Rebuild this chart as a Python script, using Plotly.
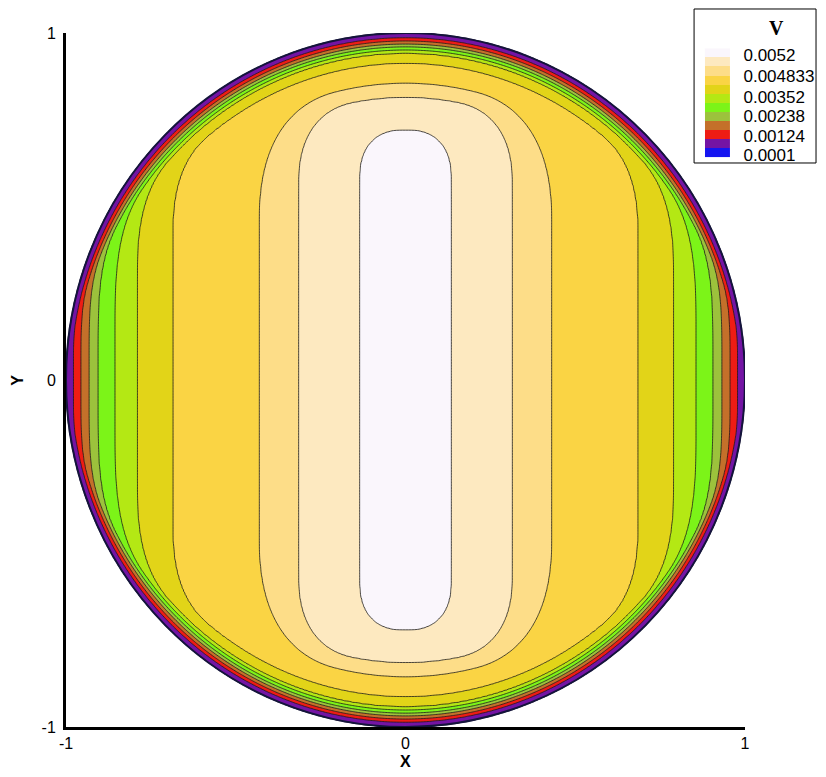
import numpy as np
import plotly.graph_objects as go

# legend levels (V) shown in the key, top to bottom
legend_labels = ["0.0052", "0.004833", "0.00352", "0.00238", "0.00124", "0.0001"]
legend_colors = ["#FAF6FC", "#FDE9C0", "#FDDD88", "#FAD444", "#E2D418", "#B4E814",
                 "#7CF418", "#9CC23C", "#C4702A", "#EE1C14", "#7414A4", "#1414F0"]

# band colours in the disk, from outside (blank) to the centre
band_colors = ["#FFFFFF", "#7414A4", "#EE1C14", "#C4702A", "#9CC23C",
               "#7CF418", "#B4E814", "#E2D418", "#FAD444", "#FDDD88", "#FDE9C0", "#FAF6FC"]

# contour boundaries, outer -> inner
# half width at y=0, half height at x=0, corner rounding
bound_halfwidth = [1.000, 0.978, 0.956, 0.932, 0.906, 0.856, 0.790, 0.685, 0.430, 0.315, 0.134]
bound_halfheight = [1.000, 0.986, 0.977, 0.968, 0.960, 0.951, 0.942, 0.913, 0.855, 0.815, 0.720]
bound_round = [0.0, 0.006, 0.019, 0.033, 0.05, 0.08, 0.09, 0.10, 0.22, 0.16, 0.12]

xs = np.linspace(-1, 1, 451)
ys = np.linspace(-1, 1, 451)
X, Y = np.meshgrid(xs, ys)
R = np.sqrt(X**2 + Y**2)


def smax(p, q, k):
    if k <= 0:
        return np.maximum(p, q)
    h = np.clip(k - np.abs(p - q), 0, None) / k
    return np.maximum(p, q) + h * h * k / 4


D = np.array([smax(np.abs(X) - a, R - b, k)
              for a, b, k in zip(bound_halfwidth, bound_halfheight, bound_round)])
nb = len(D)
inside = (D < 0).sum(axis=0)
V = np.empty_like(X)
out = inside == 0
V[out] = 1 - np.clip(D[0][out] / 0.05, 0, 0.99)
for k in range(nb):
    m = inside == k + 1
    if k < nb - 1:
        dk = -D[k][m]
        dn = D[k + 1][m]
        V[m] = (k + 1) + dk / (dk + dn)
    else:
        V[m] = (k + 1) + np.clip(-D[k][m] / 0.05, 0, 0.99)
V = np.round(V, 4)

# stepped colourscale so every band gets exactly its colour
n = len(band_colors) - 1
cscale = []
for i, c in enumerate(band_colors):
    cscale.append([max(0.0, (i - 0.5) / n), c])
    cscale.append([min(1.0, (i + 0.5) / n), c])

fig = go.Figure()
fig.add_trace(go.Contour(
    x=xs, y=ys, z=V, colorscale=cscale, showscale=False,
    contours=dict(start=1, end=nb, size=1, coloring="fill"),
    line=dict(color="#1a1a1a", width=0.8), hoverinfo="skip"))

# legend key as a small heatmap
nk = len(legend_colors)
fig.add_trace(go.Heatmap(
    z=[[i] for i in range(nk)], xaxis="x2", yaxis="y2",
    colorscale=[[i / (nk - 1), c] for i, c in enumerate(legend_colors)],
    showscale=False, hoverinfo="skip"))

# page body adds an 8px margin, keep the figure inside the window
fig.update_layout(
    width=810, height=761,
    margin=dict(l=58, r=73, t=25, b=42),
    paper_bgcolor="white", plot_bgcolor="white",
    font=dict(family="Arial, Liberation Sans", color="black"),
    showlegend=False,
    xaxis=dict(range=[-1, 1], tickvals=[-1, 0, 1], ticktext=["-1", "0", "1"], automargin=False,
               showgrid=False, zeroline=False, showline=True, linewidth=3, linecolor="black",
               ticks="", tickfont=dict(size=16)),
    yaxis=dict(range=[-1, 1], tickvals=[-1, 0, 1], ticktext=["-1", "0", "1"], automargin=False,
               showgrid=False, zeroline=False, showline=True, linewidth=3, linecolor="black",
               ticks="outside", ticklen=4, tickcolor="rgba(0,0,0,0)", tickfont=dict(size=16)),
    xaxis2=dict(domain=[0.941, 0.978], anchor="y2", range=[-0.5, 0.5], automargin=False,
                showticklabels=False, showgrid=False, zeroline=False, showline=False),
    yaxis2=dict(domain=[0.821, 0.978], anchor="x2", range=[11.5, -0.5], side="right",
                automargin=False,
                tickvals=[0.3, 2.55, 4.9, 7.0, 9.2, 11.3], ticktext=legend_labels,
                ticks="outside", ticklen=9, tickcolor="rgba(0,0,0,0)",
                tickfont=dict(size=17), showgrid=False, zeroline=False, showline=False),
    shapes=[dict(type="circle", xref="x", yref="y", x0=-1, x1=1, y0=-1, y1=1,
                 line=dict(color="#14143C", width=2), layer="above"),
            dict(type="rect", xref="paper", yref="paper", x0=0.925, x1=1.1046, y0=0.8127, y1=1.0346,
                 line=dict(color="black", width=1), layer="above")],
    annotations=[dict(text="<b>V</b>", xref="paper", yref="paper", x=1.0457, y=1.007,
                      xanchor="center", yanchor="middle", showarrow=False,
                      font=dict(family="Times New Roman, Liberation Serif", size=20)),
                 dict(text="<b>X</b>", xref="paper", yref="paper", x=0.5, y=-0.049,
                      xanchor="center", yanchor="middle", showarrow=False, font=dict(size=16)),
                 dict(text="<b>Y</b>", xref="paper", yref="paper", x=-0.0725, y=0.5,
                      xanchor="center", yanchor="middle", textangle=-90, showarrow=False,
                      font=dict(size=16))],
)

fig.write_html("out.html")
